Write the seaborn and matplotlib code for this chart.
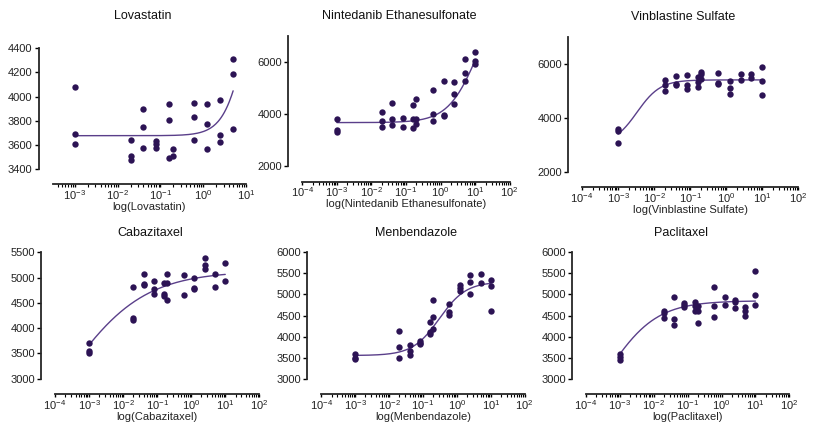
import numpy as np
import pandas as pd
import matplotlib
matplotlib.use("Agg")
import matplotlib.pyplot as plt
import seaborn as sns
from matplotlib.ticker import LogLocator, LogFormatterSciNotation, FixedLocator

# drugs and doses (uM)
drugs = ["Lovastatin", "Nintedanib Ethanesulfonate", "Vinblastine Sulfate",
         "Cabazitaxel", "Menbendazole", "Paclitaxel"]
conc = [0.001, 0.02, 0.04, 0.08, 0.16, 0.2, 0.6, 1.25, 2.5, 5, 10]

# replicate readings per dose
lovastatin = [[4077, 3688, 3605], [3638, 3508, 3475], [3897, 3745, 3574],
              [3629, 3605, 3571], [3941, 3808, 3491], [3568, 3508],
              [3944, 3831, 3643], [3936, 3775, 3568], [3969, 3682, 3624],
              [4309, 4187, 3731]]
nintedanib = [[3819, 3400, 3330], [4077, 3754, 3500], [4423, 3819, 3577],
              [3870, 3500], [4346, 3831, 3485], [4577, 3819, 3615],
              [4935, 4000, 3754], [5292, 3962, 3935], [5254, 4781, 4385],
              [6115, 5588, 5281], [6396, 6023, 5923]]
vinblastine = [[3570, 3519, 3075], [5407, 5211, 4989], [5556, 5259, 5222],
               [5570, 5211, 5063], [5519, 5333, 5126], [5704, 5607, 5433],
               [5644, 5296, 5237], [5370, 5089, 4878], [5607, 5385],
               [5607, 5481], [5878, 5359, 4830]]
cabazitaxel = [[3712, 3554, 3515], [4821, 4207, 4156], [5078, 4880, 4848],
               [4930, 4765, 4678], [4897, 4673, 4634], [5078, 4897, 4558],
               [5058, 4657], [4987, 4790, 4770], [5383, 5251, 5166],
               [5071, 4815], [5296, 4940]]
menbendazole = [[3594, 3500, 3461], [4140, 3746, 3485], [3800, 3658, 3556],
                [3903, 3855, 3817], [4340, 4102, 4062], [4877, 4458, 4173],
                [4767, 4591, 4506], [5226, 5162, 5083], [5463, 5304, 5005],
                [5480, 5273], [5352, 5195, 4615]]
paclitaxel = [[3579, 3523, 3451], [4608, 4553, 4435], [4948, 4418, 4276],
              [4805, 4750, 4696], [4829, 4734, 4615], [4734, 4615, 4323],
              [5171, 4720, 4473], [4941, 4760], [4869, 4815, 4679],
              [4710, 4608, 4497], [5558, 4988, 4758]]
readings = [lovastatin, nintedanib, vinblastine, cabazitaxel, menbendazole, paclitaxel]

# 4PL fit parameters (bottom, top, logEC50, hill) and last dose of fitted curve
fit_bottom = [3676, 3677, 3000, 1000, 3550, 1500]
fit_top = [5676, 9000, 5400, 5130, 5300, 4850]
fit_logec50 = [1.1, 1.09, -2.475, -3.687, -0.52, -3.363]
fit_hill = [1.6, 1.0, 1.34, 0.38, 1.1, 0.6]
curve_end = [5, 10, 10, 10, 10, 10]

# axis ranges
y_ranges = [(3400, 4400), (2000, 7000), (2000, 7000), (3000, 5500), (3000, 6000), (3000, 6000)]
y_ticks = [np.arange(3400, 4401, 200), [2000, 4000, 6000], [2000, 4000, 6000],
           np.arange(3000, 5501, 500), np.arange(3000, 6001, 500), np.arange(3000, 6001, 500)]
x_ranges = [(10 ** -3.52, 10), (1e-4, 1e2), (1e-4, 1e2), (1e-4, 1e2), (1e-4, 1e2), (1e-4, 1e2)]

rows = []
for drug, reps in zip(drugs, readings):
    for c, vals in zip(conc, reps):
        for v in vals:
            rows.append((drug, c, v))
df = pd.DataFrame(rows, columns=["drug", "conc", "value"])

sns.set_style("ticks")
plt.rcParams["font.family"] = ["Liberation Sans", "DejaVu Sans"]
plt.rcParams["font.size"] = 8

W, H = 819, 426
fig = plt.figure(figsize=(W / 100, H / 100), dpi=100)

# axes boxes in pixels: left, top, right, bottom
boxes = [(52.7, 48.3, 246, 169), (302.3, 36, 509.7, 166.3), (582, 36.7, 798.3, 171.7),
         (55, 252.3, 259.3, 378.7), (321.3, 252.3, 524.7, 378.7), (586, 252.3, 789.3, 378.7)]
title_pad = [21, 12, 12, 11.5, 11.5, 11.5]

dot_color = "#2c1354"
line_color = "#5a3f8a"

for i, drug in enumerate(drugs):
    l, t, r, b = boxes[i]
    ax = fig.add_axes([l / W, 1 - b / H, (r - l) / W, (b - t) / H])
    ax.set_xscale("log")
    sub = df[df["drug"] == drug]
    sns.scatterplot(data=sub, x="conc", y="value", ax=ax, color=dot_color,
                    s=21, linewidth=0, zorder=3)
    xs = np.logspace(-3, np.log10(curve_end[i]), 200)
    ys = fit_bottom[i] + (fit_top[i] - fit_bottom[i]) / (
        1 + 10 ** ((fit_logec50[i] - np.log10(xs)) * fit_hill[i]))
    sns.lineplot(x=xs, y=ys, ax=ax, color=line_color, linewidth=1.0)

    ax.set_xlim(*x_ranges[i])
    ax.set_ylim(*y_ranges[i])
    ax.set_yticks(y_ticks[i])
    lo = int(np.ceil(np.log10(x_ranges[i][0])))
    hi = int(np.floor(np.log10(x_ranges[i][1])))
    ax.xaxis.set_major_locator(FixedLocator([10.0 ** k for k in range(lo, hi + 1)]))
    ax.xaxis.set_major_formatter(LogFormatterSciNotation())
    ax.xaxis.set_minor_locator(LogLocator(base=10, subs=np.arange(2, 10), numticks=100))

    for side in ["top", "right"]:
        ax.spines[side].set_visible(False)
    ax.spines["left"].set_position(("outward", 10))
    ax.spines["bottom"].set_position(("outward", 11))
    ax.spines["left"].set_linewidth(1.3)
    ax.spines["bottom"].set_linewidth(1.3)
    ax.tick_params(axis="y", which="major", length=3, width=1, pad=1.5,
                   labelsize=8, color="black", labelcolor="#222222")
    ax.tick_params(axis="x", which="major", length=2.5, width=1, pad=0.3,
                   labelsize=8, color="black", labelcolor="#222222")
    ax.tick_params(axis="x", which="minor", length=1.8, width=0.8, color="black")
    ax.set_ylabel("")
    ax.set_xlabel(f"log({drug})", fontsize=8, labelpad=0, color="#222222")
    ax.set_title(drug, fontsize=9, pad=title_pad[i], color="#111111")
    # centre title between y-spine and right end
    off = 10 * 100 / 72
    ax.title.set_x((1 - off / (r - l)) / 2)

fig.savefig("out.png", dpi=100, facecolor="white")
